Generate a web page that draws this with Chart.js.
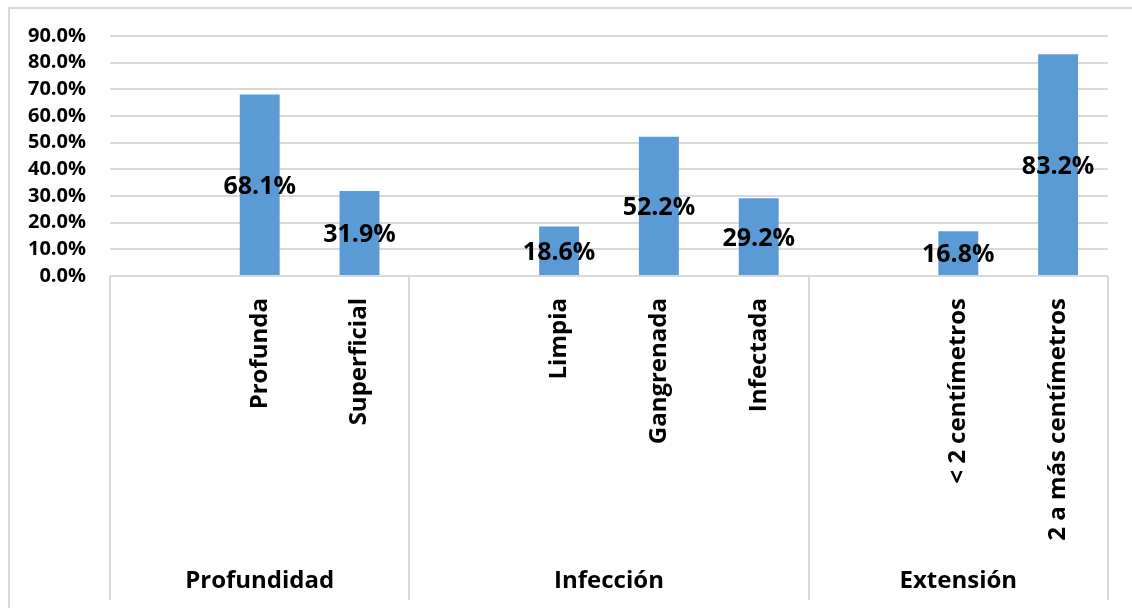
<!DOCTYPE html>
<html>
<head>
<meta charset="utf-8">
<script src="https://cdn.jsdelivr.net/npm/chart.js@4.4.1/dist/chart.umd.min.js"></script>
<style>
  html, body { margin: 0; padding: 0; background: #fff; }
  #wrap { position: relative; width: 1132px; height: 608px; }
  #marco { position: absolute; left: 8px; top: 7px; right: -10px; bottom: -10px;
           border-left: 2px solid #d9d9d9; border-top: 2px solid #d9d9d9; pointer-events: none; }
  canvas { position: absolute; left: 0; top: 0; }
</style>
</head>
<body>
<div id="wrap">
  <canvas id="grafico" width="1132" height="608"></canvas>
  <div id="marco"></div>
</div>
<script>
// ================================
//   DATI
// ================================
const categorias = ["", "Profunda", "Superficial", "", "Limpia", "Gangrenada", "Infectada", "", "< 2 centímetros", "2 a más centímetros"];
const porcentajes = [null, 68.1, 31.9, null, 18.6, 52.2, 29.2, null, 16.8, 83.2];
const grupos = ["Profundidad", "Infección", "Extensión"];
const inicioGrupo = [0, 3, 7];   // indice della prima categoria di ogni gruppo
const ticksY = [0, 10, 20, 30, 40, 50, 60, 70, 80, 90];

const FONT = "'Open Sans', 'Noto Sans', sans-serif";
const GRIGIO = "#d9d9d9";

// ================================
//   PLUGIN: etichette valori
// ================================
const etichetteValori = {
  id: "etichetteValori",
  afterDatasetsDraw(chart) {
    const ctx = chart.ctx;
    const meta = chart.getDatasetMeta(0);
    ctx.save();
    ctx.font = "bold 25px " + FONT;
    ctx.fillStyle = "#000";
    ctx.textAlign = "center";
    ctx.textBaseline = "middle";
    meta.data.forEach((bar, i) => {
      const v = porcentajes[i];
      if (v == null) return;
      ctx.fillText(v.toFixed(1) + "%", bar.x, (bar.y + bar.base) / 2 + 2);
    });
    ctx.restore();
  }
};

// ================================
//   PLUGIN: gruppi asse X
// ================================
const gruppiAsse = {
  id: "gruppiAsse",
  afterDraw(chart) {
    const ctx = chart.ctx;
    const x = chart.scales.x;
    const area = chart.chartArea;
    const fondo = 600;

    const bordo = (i) => {
      if (i <= 0) return area.left;
      if (i >= categorias.length) return area.right;
      return (x.getPixelForValue(i - 1) + x.getPixelForValue(i)) / 2;
    };

    ctx.save();
    ctx.strokeStyle = GRIGIO;
    ctx.lineWidth = 2;
    // linea asse
    ctx.beginPath();
    ctx.moveTo(area.left, area.bottom);
    ctx.lineTo(area.right, area.bottom);
    ctx.stroke();

    const limiti = inicioGrupo.concat([categorias.length]);
    limiti.forEach(i => {
      const px = Math.round(bordo(i));
      ctx.beginPath();
      ctx.moveTo(px, area.bottom);
      ctx.lineTo(px, fondo);
      ctx.stroke();
    });

    ctx.font = "bold 24px " + FONT;
    ctx.fillStyle = "#000";
    ctx.textAlign = "center";
    ctx.textBaseline = "middle";
    grupos.forEach((g, k) => {
      const a = bordo(limiti[k]);
      const b = bordo(limiti[k + 1]);
      ctx.fillText(g, (a + b) / 2, 581);
    });
    ctx.restore();
  }
};

// ================================
//   GRAFICO
// ================================
new Chart(document.getElementById("grafico"), {
  type: "bar",
  data: {
    labels: categorias,
    datasets: [{
      data: porcentajes,
      backgroundColor: "#5b9bd5",
      categoryPercentage: 1,
      barPercentage: 0.4
    }]
  },
  options: {
    responsive: false,
    animation: false,
    layout: { padding: { top: 36, right: 24, left: 0, bottom: 0 } },
    plugins: { legend: { display: false }, tooltip: { enabled: false } },
    scales: {
      x: {
        grid: { display: false },
        border: { display: false },
        ticks: {
          autoSkip: false,
          minRotation: 90,
          maxRotation: 90,
          padding: 14,
          color: "#000",
          font: { family: FONT, size: 24, weight: "bold" }
        },
        afterFit(scale) { scale.height = 332; }
      },
      y: {
        min: 0,
        max: 90,
        afterBuildTicks(scale) { scale.ticks = ticksY.map(v => ({ value: v })); },
        grid: { color: GRIGIO, lineWidth: 2, drawTicks: false },
        border: { display: false },
        ticks: {
          autoSkip: false,
          padding: 24,
          color: "#000",
          font: { family: FONT, size: 20, weight: "bold" },
          callback: v => v.toFixed(1) + "%"
        },
        afterFit(scale) { scale.width = 110; }
      }
    }
  },
  plugins: [etichetteValori, gruppiAsse]
});
</script>
</body>
</html>
